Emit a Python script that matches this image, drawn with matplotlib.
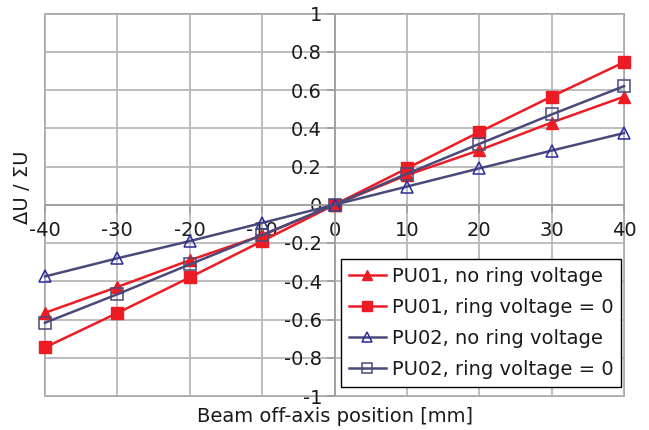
import matplotlib
matplotlib.use("Agg")
import matplotlib.pyplot as plt
from matplotlib.patches import Rectangle

x = [-40, -30, -20, -10, 0, 10, 20, 30, 40]
pu01_no_ring = [-0.565, -0.43, -0.29, -0.16, 0.0, 0.155, 0.285, 0.43, 0.565]
pu01_ring0 = [-0.746, -0.566, -0.38, -0.19, 0.0, 0.19, 0.38, 0.566, 0.745]
pu02_no_ring = [-0.375, -0.28, -0.19, -0.095, 0.0, 0.095, 0.19, 0.283, 0.375]
pu02_ring0 = [-0.617, -0.468, -0.312, -0.158, 0.0, 0.162, 0.318, 0.472, 0.62]
labels = ["PU01, no ring voltage", "PU01, ring voltage = 0",
          "PU02, no ring voltage", "PU02, ring voltage = 0"]
xticks = [-40, -30, -20, -10, 0, 10, 20, 30, 40]
yticks = [-1, -0.8, -0.6, -0.4, -0.2, 0, 0.2, 0.4, 0.6, 0.8, 1]
ytick_labels = ["-1", "-0.8", "-0.6", "-0.4", "-0.2", "0", "0.2", "0.4", "0.6", "0.8", "1"]
xtick_labels = ["-40", "-30", "-20", "-10", "0", "10", "20", "30", "40"]

red = "#ED1C24"
slate = "#4A4A7A"
blue = "#2B2BA0"

plt.rcParams['font.family'] = ['DejaVu Sans']
plt.rcParams['axes.unicode_minus'] = False
fig = plt.figure(figsize=(6.49, 4.30), dpi=100)
ax = fig.add_axes([45/649, 1 - 396/430, (624-45)/649, (396-13.5)/430])
ax.set_xlim(-40, 40)
ax.set_ylim(-1, 1)

ax.set_xticks(xticks)
ax.set_xticklabels(xtick_labels)
ax.set_yticks(yticks)
ax.set_yticklabels(ytick_labels)
ax.grid(True, color="#b8b8b8", linewidth=1.3)
ax.set_axisbelow(True)

for s in ["top", "right"]:
    ax.spines[s].set_visible(False)
ax.spines["left"].set_position(("data", 0))
ax.spines["bottom"].set_position(("data", 0))
for s in ["left", "bottom"]:
    ax.spines[s].set_color("#a0a0a0")
    ax.spines[s].set_linewidth(1.3)
ax.add_patch(Rectangle((0, 0), 1, 1, transform=ax.transAxes, fill=False,
                       edgecolor="#a0a0a0", linewidth=1.3, zorder=0.5, clip_on=False))

ax.tick_params(axis="both", colors="#a0a0a0", labelcolor="#1a1a1a", labelsize=14,
               length=6, width=1.3, direction="out")
ax.tick_params(axis="x", pad=6)
ax.tick_params(axis="y", pad=3)

ax.plot(x, pu01_no_ring, color=red, lw=1.8, marker="^", ms=9, mfc=red, mec=red, label=labels[0], zorder=3, clip_on=False)
ax.plot(x, pu01_ring0, color=red, lw=1.8, marker="s", ms=9, mfc=red, mec=red, label=labels[1], zorder=3, clip_on=False)
ax.plot(x, pu02_no_ring, color=slate, lw=1.8, marker="^", ms=9, mfc="none", mec=blue, mew=1.1, label=labels[2], zorder=3, clip_on=False)
ax.plot(x, pu02_ring0, color=slate, lw=1.8, marker="s", ms=9, mfc="none", mec=slate, mew=1.1, label=labels[3], zorder=3, clip_on=False)

leg = ax.legend(loc="lower right", bbox_to_anchor=(621/649, 1 - 387/430), bbox_transform=fig.transFigure,
                fontsize=14, frameon=True, fancybox=False, edgecolor="black", framealpha=1,
                handlelength=1.9, handletextpad=0.3, labelspacing=0.62, borderpad=0.4,
                borderaxespad=0, markerscale=0.8)
leg.get_frame().set_linewidth(1.0)
for t in leg.get_texts():
    t.set_color("#1a1a1a")

fig.text(22/649, 1 - 187/430, "ΔU / ΣU", rotation=90, ha="center", va="center", fontsize=14, color="#1a1a1a")
fig.text(335/649, 1 - 417/430, "Beam off-axis position [mm]", ha="center", va="center", fontsize=14, color="#1a1a1a")

fig.savefig("out.png", dpi=100)
